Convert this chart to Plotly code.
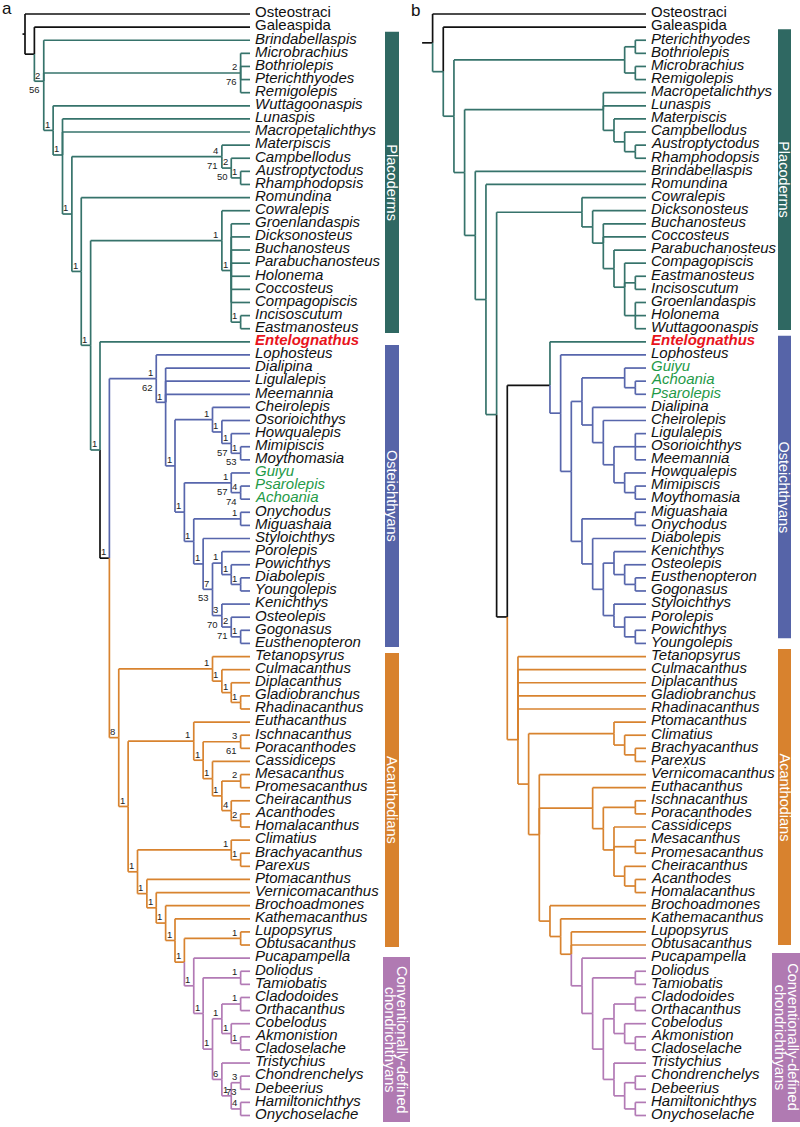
import plotly.graph_objects as go

# ---------------- DATA ----------------
# Panel a: topology with support values (Bremer/bootstrap); "!k" marks black stem lineages
CH_A = "(Pucapampella,((Doliodus,Tamiobatis)1,(((Cladodoides,Orthacanthus)1,(Cobelodus,(Akmonistion,Cladoselache)1)1)1,(Tristychius,((Chondrenchelys,Debeerius)3/73,(Hamiltonichthys,Onychoselache)4)1)6)1)1)1"
EUTH_A = "(Euthacanthus,((Ischnacanthus,Poracanthodes)3/61,(Cassidiceps,((Mesacanthus,Promesacanthus)2,(Cheiracanthus,(Acanthodes,Homalacanthus)2)4)1)1)1)1"
TET_A = "(Tetanopsyrus,(Culmacanthus,(Diplacanthus,(Gladiobranchus,Rhadinacanthus)1)1)1)1"
ACAN_A = "({TET},({EUTH},((Climatius,(Brachyacanthus,Parexus)1)1,(Ptomacanthus,(Vernicomacanthus,(Brochoadmones,(Kathemacanthus,((Lupopsyrus,Obtusacanthus)1,{CH})1)1)1)1)1)1)1)8"
CHEIRO_A = "(Cheirolepis,(Osorioichthys,(Howqualepis,(Mimipiscis,Moythomasia)1/53)1/57)1)1"
GUIYU_A = "(Guiyu,(Psarolepis,Achoania)4/74)1/57"
PORO_A = "(Porolepis,(Powichthys,(Diabolepis,Youngolepis)1)1)1"
KEN_A = "(Kenichthys,(Osteolepis,(Gogonasus,Eusthenopteron)1)2/71)3/70"
OST_A = "(Lophosteus,(Dialipina,Ligulalepis,Meemannia,({CHEIRO},({GUIYU},((Onychodus,Miguashaia)1,(Styloichthys,({PORO},{KEN})7/53)1)1)1)1)1)1/62"
COW_A = "(Cowralepis,(Groenlandaspis,Dicksonosteus,Buchanosteus,Parabuchanosteus,Holonema,Coccosteus,Compagopiscis,(Incisoscutum,Eastmanosteus)1)1)1"
MAT_A = "(Materpiscis,(Campbellodus,(Austroptyctodus,Rhamphodopsis)1)2/50)4/71"
ANT_A = "(Microbrachius,Bothriolepis,Pterichthyodes,Remigolepis)2/76"
TREE_A = "(Osteostraci,(Galeaspida,(Brindabellaspis,{ANT},(Wuttagoonaspis,(Lunaspis,Macropetalichthys,({MAT},(Romundina,({COW},(Entelognathus,({OST},{ACAN})1!k)1)1)1)1)1)1)2/56)!k)"

# Panel b: topology only ("#id" names a node)
ANT_B = "((Pterichthyodes,Bothriolepis),(Microbrachius,Remigolepis))"
MAC_B = "(Macropetalichthys,Lunaspis,(Materpiscis,(Campbellodus,(Austroptyctodus,Rhamphodopsis))))"
COW_B = "(Cowralepis,(Dicksonosteus,(Buchanosteus,Coccosteus,(Parabuchanosteus,(Compagopiscis,(Eastmanosteus,Incisoscutum),(Groenlandaspis,Holonema,Wuttagoonaspis))))))"
ACT_B = "((Guiyu,(Achoania,Psarolepis)),(Dialipina,(Cheirolepis,((Ligulalepis,Osorioichthys,Meemannia),(Howqualepis,(Mimipiscis,Moythomasia))))))"
SAR_B = "((Miguashaia,Onychodus),(Diabolepis,((Kenichthys,(Osteolepis,(Eusthenopteron,Gogonasus))),(Styloichthys,(Porolepis,(Powichthys,Youngolepis))))))"
CH_B = "(Pucapampella,((Doliodus,Tamiobatis),(((Cladodoides,Orthacanthus),(Cobelodus,(Akmonistion,Cladoselache))),(Tristychius,((Chondrenchelys,Debeerius),(Hamiltonichthys,Onychoselache))))))"
EUTH_B = "(Euthacanthus,((Ischnacanthus,Poracanthodes),(Cassidiceps,(Mesacanthus,Promesacanthus),(Cheiracanthus,(Acanthodes,Homalacanthus)))))"
ACAN_B = "(Tetanopsyrus,Culmacanthus,Diplacanthus,Gladiobranchus,Rhadinacanthus,((Ptomacanthus,(Climatius,(Brachyacanthus,Parexus))),(Vernicomacanthus,{EUTH},(Brochoadmones,(Kathemacanthus,(Lupopsyrus,Obtusacanthus,{CH}))))))#acan"
TREE_B = "(Osteostraci,(Galeaspida,({ANT},({MAC},(Brindabellaspis,(Romundina,({COW},((Entelognathus,(Lophosteus,({ACT},{SAR})))!k#ento,{ACAN})!k#crown)))))))!k)"

OUTGROUPS = ["Osteostraci", "Galeaspida"]
PLACODERMS = ["Brindabellaspis", "Microbrachius", "Bothriolepis", "Pterichthyodes", "Remigolepis",
              "Wuttagoonaspis", "Lunaspis", "Macropetalichthys", "Materpiscis", "Campbellodus",
              "Austroptyctodus", "Rhamphodopsis", "Romundina", "Cowralepis", "Groenlandaspis",
              "Dicksonosteus", "Buchanosteus", "Parabuchanosteus", "Holonema", "Coccosteus",
              "Compagopiscis", "Incisoscutum", "Eastmanosteus", "Entelognathus"]
OSTEICHTHYANS = ["Lophosteus", "Dialipina", "Ligulalepis", "Meemannia", "Cheirolepis", "Osorioichthys",
                 "Howqualepis", "Mimipiscis", "Moythomasia", "Guiyu", "Psarolepis", "Achoania",
                 "Onychodus", "Miguashaia", "Styloichthys", "Porolepis", "Powichthys", "Diabolepis",
                 "Youngolepis", "Kenichthys", "Osteolepis", "Gogonasus", "Eusthenopteron"]
CHONDRICHTHYANS = ["Pucapampella", "Doliodus", "Tamiobatis", "Cladodoides", "Orthacanthus", "Cobelodus",
                   "Akmonistion", "Cladoselache", "Tristychius", "Chondrenchelys", "Debeerius",
                   "Hamiltonichthys", "Onychoselache"]
GREEN_TAXA = ["Guiyu", "Psarolepis", "Achoania"]
HIGHLIGHT_TAXON = "Entelognathus"

# clade bars: (label lines, first row, last row) in tip-row units
BARS_A = [(["Placoderms"], 1.35, 24.33), (["Osteichthyans"], 25.24, 48.27),
          (["Acanthodians"], 48.73, 71.15),
          (["Conventionally-defined", "chondrichthyans"], 71.91, 84.5)]
BARS_B = [(["Placoderms"], 1.17, 24.1), (["Osteichthyans"], 24.53, 47.6),
          (["Acanthodians"], 48.43, 71.0),
          (["Conventionally-defined", "chondrichthyans"], 71.6, 84.5)]

# ---------------- STYLE ----------------
COL = {"k": "#111111", "teal": "#36736b", "blue": "#5766ac", "orange": "#d8832f", "purple": "#b27ab5"}
BAR_COL = {"Placoderms": "#2f6862", "Osteichthyans": "#5664a8", "Acanthodians": "#d8822e",
           "Conventionally-defined": "#b07ab2"}
FONT = "Liberation Sans, Arial, sans-serif"
Y0, DY = 14.0, 13.113
LW = 1.7
# drawing nudges (in tip rows) used by the panel-b figure for its backbone nodes
NUDGE_B = {"ento": 0.6, "acan": 3.05, "crown": 4.15}


def build(template, **parts):
    return template.format(**parts)


def parse(s):
    s = "".join(s.split())
    pos = 0

    def node():
        nonlocal pos
        if s[pos] == "(":
            pos += 1
            ch = []
            while True:
                ch.append(node())
                c = s[pos]
                pos += 1
                if c == ")":
                    break
            st = pos
            while pos < len(s) and s[pos] not in ",()":
                pos += 1
            lab = s[st:pos]
            nid = ""
            if "#" in lab:
                lab, nid = lab.split("#", 1)
            black = "!k" in lab
            lab = lab.replace("!k", "")
            return {"children": ch, "label": lab, "black": black, "id": nid}
        st = pos
        while pos < len(s) and s[pos] not in ",()":
            pos += 1
        return {"name": s[st:pos], "children": []}

    return node()


def tip_color(name):
    if name in OUTGROUPS:
        return "k"
    if name in PLACODERMS:
        return "teal"
    if name in OSTEICHTHYANS:
        return "blue"
    if name in CHONDRICHTHYANS:
        return "purple"
    return "orange"


def layout(root, tipx, step, nudge):
    tips = []

    def rec(n):
        if not n["children"]:
            n["y"] = Y0 + len(tips) * DY
            n["h"] = 0
            n["cols"] = {tip_color(n["name"])}
            tips.append(n)
        else:
            for c in n["children"]:
                rec(c)
            n["y"] = sum(c["y"] for c in n["children"]) / len(n["children"])
            n["y"] += nudge.get(n.get("id", ""), 0) * DY
            n["h"] = 1 + max(c["h"] for c in n["children"])
            n["cols"] = set().union(*[c["cols"] for c in n["children"]])
        n["x"] = tipx - n["h"] * step
        if n.get("black"):
            n["col"] = "k"
        elif len(n["cols"]) == 1:
            n["col"] = next(iter(n["cols"]))
        elif n["cols"] <= {"orange", "purple"}:
            n["col"] = "orange"
        else:
            n["col"] = "teal"

    rec(root)
    return tips


fig = go.Figure()
annotations = []
shapes = []


def draw_tree(root, tipx, step, stem, textx, with_support, nudge):
    tips = layout(root, tipx, step, nudge)
    segs = {k: ([], []) for k in COL}

    def add(col, x0, y0, x1, y1):
        xs, ys = segs[col]
        xs += [x0, x1, None]
        ys += [y0, y1, None]

    def rec(n):
        for c in n["children"]:
            add(c["col"], n["x"], n["y"], n["x"], c["y"])
            add(c["col"], n["x"], c["y"], c["x"], c["y"])
            rec(c)
        if with_support and n["children"] and n.get("label"):
            parts = n["label"].split("/")
            annotations.append(dict(x=n["x"] - 1.5, y=n["y"] - 6.2, text=parts[0], showarrow=False,
                                    xanchor="right", yanchor="middle",
                                    font=dict(family=FONT, size=9.5, color="#222222")))
            if len(parts) > 1:
                annotations.append(dict(x=n["x"] - 1.5, y=n["y"] + 8.6, text=parts[1], showarrow=False,
                                        xanchor="right", yanchor="middle",
                                        font=dict(family=FONT, size=9.5, color="#222222")))

    rec(root)
    add("k", root["x"] - stem, root["y"], root["x"], root["y"])
    for col, (xs, ys) in segs.items():
        fig.add_trace(go.Scatter(x=xs, y=ys, mode="lines", hoverinfo="skip",
                                 line=dict(color=COL[col], width=LW), showlegend=False))
    for t in tips:
        name = t["name"]
        color = "#111111"
        txt = "<i>%s</i>" % name
        if name in OUTGROUPS:
            txt = name
        elif name == HIGHLIGHT_TAXON:
            txt = "<b><i>%s</i></b>" % name
            color = "#e8141c"
        elif name in GREEN_TAXA:
            color = "#1f9a48"
        annotations.append(dict(x=textx, y=t["y"] - 2.2, text=txt, showarrow=False, xanchor="left",
                                yanchor="middle", font=dict(family=FONT, size=15, color=color)))


def draw_bars(bars, x0, x1, wide_x0, wide_x1, line_gap):
    for lines, r0, r1 in bars:
        col = BAR_COL[lines[0]]
        two = len(lines) > 1
        left = wide_x0 if two else x0
        right = wide_x1 if two else x1
        y0 = Y0 + r0 * DY
        y1 = Y0 + r1 * DY
        shapes.append(dict(type="rect", x0=left, x1=right, y0=y0, y1=y1, line=dict(width=0),
                           fillcolor=col, layer="below"))
        n = len(lines)
        for i, ln in enumerate(lines):
            cx = (left + right) / 2 + (n - 1) * line_gap / 2 - i * line_gap
            annotations.append(dict(x=cx, y=(y0 + y1) / 2, text=ln, showarrow=False, textangle=90,
                                    xanchor="center", yanchor="middle",
                                    font=dict(family=FONT, size=14.5, color="white")))


tree_a = parse(build(TREE_A, ANT=ANT_A, MAT=MAT_A, COW=COW_A,
                     OST=build(OST_A, CHEIRO=CHEIRO_A, GUIYU=GUIYU_A, PORO=PORO_A, KEN=KEN_A),
                     ACAN=build(ACAN_A, TET=TET_A, EUTH=EUTH_A, CH=CH_A)))
tree_b = parse(build(TREE_B, ANT=ANT_B, MAC=MAC_B, COW=COW_B, ACT=ACT_B, SAR=SAR_B,
                     ACAN=build(ACAN_B, EUTH=EUTH_B, CH=CH_B)))

draw_tree(tree_a, 250, 9.375, 2.5, 252.5, True, {})
draw_tree(tree_b, 646, 10.67, 10.5, 648.5, False, NUDGE_B)
draw_bars(BARS_A, 385, 399, 383, 410, 12.0)
draw_bars(BARS_B, 778, 791, 772, 800, 12.5)

annotations.append(dict(x=7, y=8, text="a", showarrow=False, xanchor="center", yanchor="middle",
                        font=dict(family=FONT, size=17, color="#111111")))
annotations.append(dict(x=415, y=10, text="b", showarrow=False, xanchor="center", yanchor="middle",
                        font=dict(family=FONT, size=17, color="#111111")))

fig.update_layout(width=800, height=1127, margin=dict(l=0, r=0, t=0, b=0),
                  paper_bgcolor="white", plot_bgcolor="white",
                  xaxis=dict(range=[0, 800], visible=False, fixedrange=True),
                  yaxis=dict(range=[1127, 0], visible=False, fixedrange=True),
                  annotations=annotations, shapes=shapes)
fig.write_html("out.html", config={"displayModeBar": False, "staticPlot": True},
               post_script="document.body.style.margin='0';")
